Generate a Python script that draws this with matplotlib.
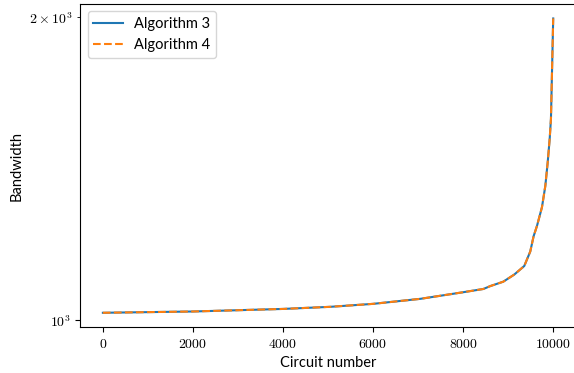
import math

import matplotlib
matplotlib.use("Agg")
import matplotlib.pyplot as plt
from matplotlib.ticker import StrMethodFormatter, FixedLocator, FuncFormatter

# values (bandwidth sorted per circuit)
circuits = [0, 2000, 4000, 5055, 6000, 7050, 8000, 8450, 8600, 8890,
            9135, 9357, 9490, 9565, 9640, 9750, 9825, 9878, 9922, 9950, 10000]
bandwidth_alg3 = [1016, 1019, 1025, 1030, 1037, 1049, 1065, 1073, 1080, 1091,
                  1109, 1131, 1169, 1211, 1240, 1294, 1359, 1435, 1514, 1585, 1995]
bandwidth_alg4 = list(bandwidth_alg3)
major_y = [1000]
minor_y = [2000]


def sci_label(v, pos=None):
    exp = int(math.floor(math.log10(v)))
    mant = round(v / 10 ** exp)
    if mant == 1:
        return r"$10^{%d}$" % exp
    return r"$%d \times 10^{%d}$" % (mant, exp)


plt.rcParams["mathtext.fontset"] = "cm"
plt.rcParams["font.family"] = ["Lato", "DejaVu Sans"]

fig, ax = plt.subplots(figsize=(5.74, 3.73), dpi=100)
fig.subplots_adjust(left=0.14, right=1.003, top=0.99, bottom=0.122)

ax.plot(circuits, bandwidth_alg3, label="Algorithm 3")
ax.plot(circuits, bandwidth_alg4, "--", label="Algorithm 4")
ax.set_yscale("log")
ax.yaxis.set_major_locator(FixedLocator(major_y))
ax.yaxis.set_minor_locator(FixedLocator(minor_y))
ax.yaxis.set_major_formatter(FuncFormatter(sci_label))
ax.yaxis.set_minor_formatter(FuncFormatter(sci_label))
ax.xaxis.set_major_formatter(StrMethodFormatter("${x:.0f}$"))

ax.set_xlabel("Circuit number", fontsize=10.5)
ax.set_ylabel("Bandwidth", fontsize=10.5)
ax.legend(loc="upper left", fontsize=10.5)

fig.savefig("out.png")
